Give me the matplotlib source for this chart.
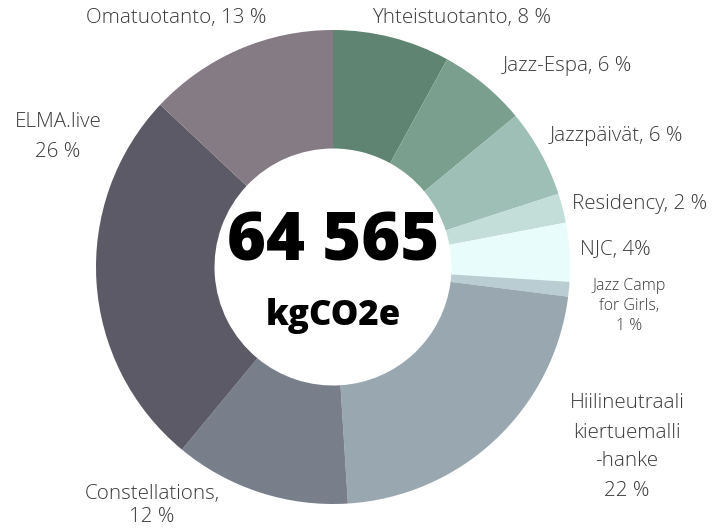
import matplotlib.pyplot as plt

# data
labels = ["Yhteistuotanto", "Jazz-Espa", "Jazzpäivät", "Residency", "NJC",
          "Jazz Camp for Girls", "Hiilineutraali kiertuemalli -hanke",
          "Constellations", "ELMA.live", "Omatuotanto"]
shares = [8, 6, 6, 2, 4, 1, 22, 12, 26, 13]
colors = ["#5f8572", "#7b9f8f", "#9ebfb5", "#c3ddd8", "#e9fcfc",
          "#bacdd3", "#99a7b0", "#787f8b", "#5b5a66", "#857b85"]
label_texts = ["Yhteistuotanto, 8 %", "Jazz-Espa, 6 %", "Jazzpäivät, 6 %",
               "Residency, 2 %", "NJC, 4%", "Jazz Camp\nfor Girls,\n1 %",
               "Hiilineutraali\nkiertuemalli\n-hanke\n22 %",
               "Constellations,\n12 %", "ELMA.live\n26 %", "Omatuotanto, 13 %"]
total = "64 565"
unit = "kgCO2e"

W, H = 714, 529
fig = plt.figure(figsize=(W / 100, H / 100), dpi=100)
ax = fig.add_axes([0, 0, 1, 1])

def py(y):
    return H - y

cx, cy, r = 333, 267, 237
ax.pie(shares, colors=colors, startangle=90, counterclock=False,
       center=(cx, py(cy)), radius=r, frame=True,
       wedgeprops=dict(width=r * 0.5, linewidth=0))
ax.set_xlim(0, W)
ax.set_ylim(0, H)
ax.set_aspect('equal')
ax.axis('off')

# label positions (pixel coords of the picture)
pos = [(462, 18), (567, 66), (616, 136), (640, 204), (615, 250),
       (629, 306), (627, 447), (152, 506), (58, 137), (176, 18)]
sizes = [14.8, 14.8, 14.8, 14.8, 14.8, 11.5, 14.8, 14.8, 14.8, 14.8]
spacing = [1.4, 1.4, 1.4, 1.4, 1.4, 1.3, 1.6, 1.2, 1.65, 1.4]
for txt, (x, y), s, ls in zip(label_texts, pos, sizes, spacing):
    ax.text(x, py(y), txt, ha='center', va='center', fontsize=s,
            family='Open Sans', weight='light', color='#3a3a3a',
            linespacing=ls)

ax.text(cx, py(243), total, ha='center', va='center', fontsize=48,
        family='Open Sans', weight='heavy', color='black')
ax.text(cx, py(316), unit, ha='center', va='center', fontsize=25,
        family='Open Sans', weight='heavy', color='black')

fig.savefig('out.png', dpi=100, facecolor='white')
